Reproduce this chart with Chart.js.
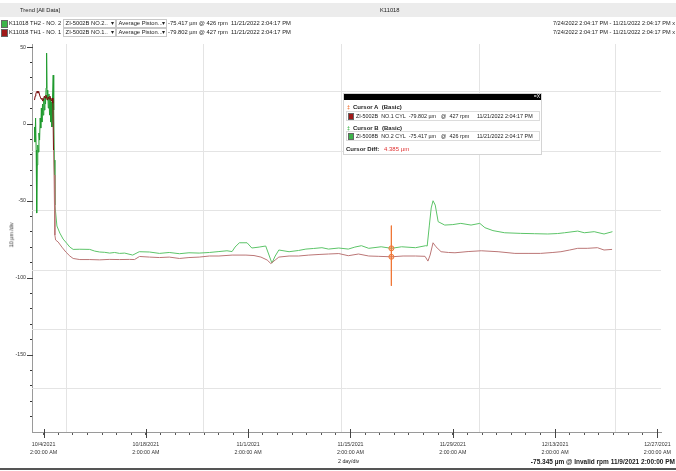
<!DOCTYPE html>
<html><head><meta charset="utf-8">
<script src="https://cdn.jsdelivr.net/npm/chart.js@4.4.0/dist/chart.umd.min.js"></script>
<style>
body{margin:0;background:#fff;width:676px;height:471px;overflow:hidden;position:relative;font-family:"Liberation Sans",Arial,sans-serif;color:#222}
#c{position:absolute;left:0;top:0}
.t{position:absolute;font-size:6.5px;white-space:nowrap;line-height:8px}
.dd{position:absolute;height:7px;border:1px solid #c8c8c8;background:#fff;font-size:5.8px;line-height:7px;white-space:nowrap;overflow:hidden}
.dd b{position:absolute;right:1px;top:0;font-weight:normal;font-size:6px}
.ic{position:absolute;width:5px;height:6px;border:1px solid #666}
.ln{position:absolute;left:2px;width:192px;height:8px;border:1px solid #dcdcdc}
.s{position:absolute;font-size:5.4px;line-height:8px;white-space:nowrap}
</style></head><body>
<canvas id="c" width="676" height="471"></canvas>

<!-- header -->
<div style="position:absolute;left:0;top:3px;width:676px;height:14px;background:#ececec"></div>
<div class="t" style="left:20px;top:6px;font-size:5.8px">Trend [All Data]</div>
<div class="t" style="left:380px;top:6px;font-size:5.8px">K11018</div>

<div class="ic" style="left:1px;top:20px;background:#3cb34a"></div>
<div class="t" style="left:9px;top:19px;font-size:5.8px">K11018 TH2 - NO. 2</div>
<div class="dd" style="left:63px;top:19px;width:51px">&nbsp;ZI-5002B NO.2..<b>▾</b></div>
<div class="dd" style="left:116px;top:19px;width:49px">&nbsp;Average Piston...<b>▾</b></div>
<div class="t" style="left:168px;top:19px;font-size:5.8px">-75.417 µm @ 426 rpm&nbsp; 11/21/2022 2:04:17 PM</div>
<div class="t" style="right:1px;top:19px;font-size:5.6px">7/24/2022 2:04:17 PM - 11/21/2022 2:04:17 PM x</div>

<div class="ic" style="left:1px;top:29px;background:#a01818"></div>
<div class="t" style="left:9px;top:28px;font-size:5.8px">K11018 TH1 - NO. 1</div>
<div class="dd" style="left:63px;top:28px;width:51px">&nbsp;ZI-5002B NO.1..<b>▾</b></div>
<div class="dd" style="left:116px;top:28px;width:49px">&nbsp;Average Piston...<b>▾</b></div>
<div class="t" style="left:168px;top:28px;font-size:5.8px">-79.802 µm @ 427 rpm&nbsp; 11/21/2022 2:04:17 PM</div>
<div class="t" style="right:1px;top:28px;font-size:5.6px">7/24/2022 2:04:17 PM - 11/21/2022 2:04:17 PM x</div>

<!-- axis titles -->
<div class="t" style="left:-1px;top:231px;font-size:5.3px;transform:rotate(-90deg)">10 µm /div</div>
<div class="t" style="left:338px;top:457px;font-size:5.3px">2 day/div</div>
<div class="t" style="right:1px;top:458px;font-size:6.5px;font-weight:bold">-75.345 µm @ Invalid rpm 11/9/2021 2:00:00 PM</div>
<div style="position:absolute;left:0;top:468px;width:676px;height:2px;background:#555"></div>

<!-- cursor box -->
<div style="position:absolute;left:343px;top:93px;width:197px;height:60px;background:#fff;border:1px solid #d4d4d4">
  <div style="position:absolute;left:0;top:0;width:197px;height:6px;background:#000"></div>
  <div class="s" style="right:1px;top:-2px;color:#fff;font-size:5px">=X</div>
  <div class="s" style="left:3px;top:9px;color:#f07030;font-weight:bold">‡</div>
  <div class="s" style="left:9px;top:9px;font-weight:bold;font-size:6px">Cursor A&nbsp; (Basic)</div>
  <div class="ln" style="top:17px"></div>
  <div class="ic" style="left:4px;top:19px;width:4px;height:5px;background:#a01818"></div>
  <div class="s" style="left:12px;top:18px">ZI-5002B&nbsp; NO.1 CYL&nbsp; -79.802 µm</div>
  <div class="s" style="left:97px;top:18px">@&nbsp; 427 rpm</div>
  <div class="s" style="left:133px;top:18px">11/21/2022 2:04:17 PM</div>
  <div class="s" style="left:3px;top:30px;color:#3cb34a;font-weight:bold">‡</div>
  <div class="s" style="left:9px;top:30px;font-weight:bold;font-size:6px">Cursor B&nbsp; (Basic)</div>
  <div class="ln" style="top:37px"></div>
  <div class="ic" style="left:4px;top:39px;width:4px;height:5px;background:#3cb34a"></div>
  <div class="s" style="left:12px;top:38px">ZI-5008B&nbsp; NO.2 CYL&nbsp; -75.417 µm</div>
  <div class="s" style="left:97px;top:38px">@&nbsp; 426 rpm</div>
  <div class="s" style="left:133px;top:38px">11/21/2022 2:04:17 PM</div>
  <div class="s" style="left:2px;top:51px;font-weight:bold;font-size:6px">Cursor Diff:</div>
  <div class="s" style="left:40px;top:51px;color:#e03030;font-size:6px">4.385 µm</div>
</div>

<script>
// x values: days after 10/4/2021 2:00:00 AM ; y values: µm
const majorDays = [0, 14, 28, 42, 56, 70, 84];
const majorLabels = [
  ['10/4/2021','2:00:00 AM'], ['10/18/2021','2:00:00 AM'], ['11/1/2021','2:00:00 AM'],
  ['11/15/2021','2:00:00 AM'], ['11/29/2021','2:00:00 AM'], ['12/13/2021','2:00:00 AM'],
  ['12/27/2021','2:00:00 AM']
];
const yLabelValues = [50, 0, -50, -100, -150];
const gridX = [3.05, 21.85, 40.65, 59.6, 78.25];
const gridY = [21.4, -17.4, -56.0, -94.8, -133.3, -171.7];

const cyl1 = [ // K11018 TH1 - NO.1 CYL
[-1.24,15.6],[-1.14,18.2],[-1.06,19.5],[-0.97,20.8],[-0.86,21.4],[-0.76,20.1],[-0.65,21.1],[-0.54,18.8],
[-0.44,17.5],[-0.33,16.2],[-0.22,16.9],[-0.11,14.9],[0,16.2],[0.11,18.2],[0.22,16.9],[0.33,18.8],
[0.44,16.9],[0.54,15.6],[0.65,17.5],[0.76,16.2],[0.87,18.2],[0.98,16.2],[1.09,14.9],[1.19,16.9],
[1.28,13.6],[1.36,-16.9],[1.44,-33.1],[1.55,-72.1],[1.65,-75.3],[2.0,-76.6],[2.51,-79.9],[3.05,-83.1],
[3.6,-85.7],[4.05,-87.3],[4.96,-88.0],[6.32,-88.0],[7.68,-88.2],[8.99,-87.9],[10.4,-88.0],[11.77,-87.9],
[12.45,-88.0],[13.13,-86.0],[14.5,-86.4],[15.86,-86.7],[17.2,-86.4],[18.6,-87.3],[19.9,-86.7],[21.3,-86.4],
[22.7,-85.7],[24.0,-85.7],[25.8,-85.1],[27.7,-85.1],[28.8,-85.4],[29.75,-86.4],[30.6,-88.3],[31.1,-90.6],
[31.7,-88.3],[32.2,-86.4],[33.6,-85.7],[34.9,-85.7],[36.3,-85.1],[37.7,-84.7],[39.0,-84.4],[40.4,-84.1],
[41.7,-85.5],[43.1,-84.4],[44.5,-85.7],[45.8,-85.9],[47.6,-86.2],[49.2,-85.7],[50.9,-85.7],[52.2,-85.9],
[52.6,-89.0],[52.9,-85.1],[53.3,-77.1],[53.7,-79.7],[54.4,-82.9],[55.4,-83.4],[56.3,-83.6],[58.1,-82.8],
[59.9,-82.3],[62.2,-82.9],[64.5,-84.0],[66.3,-84.0],[68.0,-84.0],[69.7,-83.4],[70.8,-82.9],[72.0,-81.8],
[73.1,-80.7],[74.4,-80.7],[75.8,-80.3],[76.7,-81.8],[77.8,-81.4]
];

const cyl2 = [ // K11018 TH2 - NO.2 CYL
[-1.24,-1.9],[-1.17,-11.7],[-1.09,3.9],[-1.01,-16.9],[-0.94,-57.8],[-0.87,-26.6],[-0.79,-13.6],[-0.71,-18.2],
[-0.63,-5.8],[-0.54,-10.4],[-0.46,3.9],[-0.38,-2.6],[-0.30,10.4],[-0.22,1.3],[-0.14,13.0],[-0.05,5.8],
[0.03,16.2],[0.11,9.1],[0.19,17.5],[0.27,13.0],[0.35,23.4],[0.42,46.1],[0.49,15.6],[0.57,22.1],
[0.65,10.4],[0.74,19.5],[0.82,5.8],[0.90,16.9],[0.98,1.3],[1.06,14.3],[1.14,-1.9],[1.23,18.2],
[1.32,31.8],[1.39,9.1],[1.47,-23.4],[1.55,-52.6],[1.65,-57.1],[1.83,-66.2],[2.23,-70.8],[2.68,-74.7],
[3.15,-77.3],[3.6,-79.9],[4.05,-81.4],[4.96,-81.3],[6.32,-81.4],[7.0,-82.5],[7.68,-83.1],[8.37,-83.3],
[9.05,-83.8],[9.73,-83.4],[10.4,-84.0],[11.1,-83.8],[12.2,-85.1],[13.1,-82.9],[14.5,-83.1],[15.86,-84.0],
[17.2,-83.4],[18.6,-84.2],[19.9,-83.6],[21.3,-83.8],[22.7,-83.4],[24.0,-82.8],[25.1,-82.3],[25.8,-82.8],
[26.2,-79.9],[26.8,-77.1],[27.85,-77.1],[28.5,-80.5],[29.5,-79.9],[30.4,-79.2],[30.8,-84.4],[31.25,-90.3],
[31.7,-85.7],[32.2,-81.8],[33.6,-82.9],[34.9,-82.1],[35.9,-81.2],[36.96,-80.8],[38.1,-80.3],[39.0,-81.2],
[40.4,-80.5],[41.7,-81.2],[42.6,-79.9],[43.5,-79.0],[44.5,-80.7],[46.2,-79.7],[47.6,-80.7],[49.0,-79.7],
[50.9,-80.3],[52.3,-79.0],[52.5,-79.2],[52.8,-65.6],[53.05,-54.5],[53.3,-49.8],[53.6,-52.6],[54.0,-63.4],
[54.9,-65.6],[56.0,-65.3],[57.1,-64.5],[58.5,-65.6],[59.7,-64.5],[60.4,-67.3],[61.5,-69.2],[63.1,-70.6],
[65.3,-71.0],[67.2,-71.2],[69.0,-71.4],[70.35,-71.1],[71.3,-70.6],[73.1,-69.5],[74.0,-70.6],[75.35,-69.9],
[76.7,-71.4],[77.85,-69.9]
];

const cursorDay = 47.6;
const cursorSpan = [-66, -105];
const cursorValues = [-80.7, -86.2];

const X_MIN = -1.58, X_MAX = 84.5, Y_MIN = -200, Y_MAX = 52;
const toXY = arr => arr.map(p => ({x: p[0], y: p[1]}));
const FAMILY = '"Liberation Sans", Arial, sans-serif';

const gridPlugin = {
  id: 'customGrid',
  beforeDatasetsDraw(chart) {
    const {ctx, chartArea: a, scales: {x, y}} = chart;
    ctx.save();
    ctx.strokeStyle = '#e4e4e4';
    ctx.lineWidth = 1;
    gridX.forEach(d => {
      const px = Math.round(x.getPixelForValue(d)) + 0.5;
      ctx.beginPath(); ctx.moveTo(px, a.top); ctx.lineTo(px, a.bottom); ctx.stroke();
    });
    gridY.forEach(v => {
      const py = Math.round(y.getPixelForValue(v)) + 0.5;
      ctx.beginPath(); ctx.moveTo(a.left, py); ctx.lineTo(a.right, py); ctx.stroke();
    });
    ctx.restore();
  },
  afterDraw(chart) {
    const {ctx, chartArea: a, scales: {x, y}} = chart;
    ctx.save();
    ctx.strokeStyle = '#444';
    ctx.lineWidth = 1;
    majorDays.forEach(d => {
      const px = Math.round(x.getPixelForValue(d)) + 0.5;
      ctx.beginPath(); ctx.moveTo(px, a.bottom - 3); ctx.lineTo(px, a.bottom + 6); ctx.stroke();
    });
    yLabelValues.forEach(v => {
      const py = Math.round(y.getPixelForValue(v)) + 0.5;
      ctx.beginPath(); ctx.moveTo(a.left - 5, py); ctx.lineTo(a.left + 1, py); ctx.stroke();
    });
    ctx.restore();
  }
};

new Chart(document.getElementById('c'), {
  type: 'line',
  data: {
    datasets: [
      {
        data: cursorValues.map(v => ({x: cursorDay, y: v})),
        showLine: false, pointRadius: 2.5, pointBorderWidth: 1,
        pointBorderColor: '#f07838', pointBackgroundColor: 'rgba(240,120,56,0.35)'
      },
      {
        data: cursorSpan.map(v => ({x: cursorDay, y: v})),
        borderColor: '#f07838', borderWidth: 1, pointRadius: 0
      },
      {
        label: 'NO.1 CYL', data: toXY(cyl1), borderWidth: 1, pointRadius: 0, tension: 0,
        borderColor: '#b87474',
        segment: { borderColor: c => c.p0.parsed.x < 1.3 ? '#7a0c0c' : '#bb7676' }
      },
      {
        label: 'NO.2 CYL', data: toXY(cyl2), borderWidth: 1, pointRadius: 0, tension: 0,
        borderColor: '#5cc468',
        segment: { borderColor: c => c.p0.parsed.x < 1.5 ? '#1f9a2e' : '#5cc468' }
      }
    ]
  },
  options: {
    responsive: false, animation: false, devicePixelRatio: 1,
    layout: {padding: {top: 44, right: 12, left: 0, bottom: 0}},
    plugins: {legend: {display: false}, tooltip: {enabled: false}},
    scales: {
      x: {
        type: 'linear', min: X_MIN, max: X_MAX,
        afterFit(s) { s.height = 39; },
        afterBuildTicks(s) {
          const t = [];
          for (let d = 0; d <= 84; d += 2) t.push({value: d});
          s.ticks = t;
        },
        ticks: {
          autoSkip: false, maxRotation: 0, padding: 5, color: '#333',
          font: {family: FAMILY, size: 5.3, lineHeight: 1.6},
          callback: v => { const i = majorDays.indexOf(v); return i >= 0 ? majorLabels[i] : ''; }
        },
        grid: {drawOnChartArea: false, tickLength: 3, tickColor: '#555'},
        border: {color: '#9a9a9a'}
      },
      y: {
        type: 'linear', min: Y_MIN, max: Y_MAX,
        afterFit(s) { s.width = 32; },
        afterBuildTicks(s) {
          const t = [];
          for (let v = -190; v <= 50; v += 10) t.push({value: v});
          s.ticks = t;
        },
        ticks: {
          autoSkip: false, padding: 4, color: '#333',
          font: {family: FAMILY, size: 5.2},
          callback: v => yLabelValues.includes(v) ? String(v) : ''
        },
        grid: {drawOnChartArea: false, tickLength: 2, tickColor: '#333'},
        border: {color: '#9a9a9a'}
      }
    }
  },
  plugins: [gridPlugin]
});
</script>
</body></html>
